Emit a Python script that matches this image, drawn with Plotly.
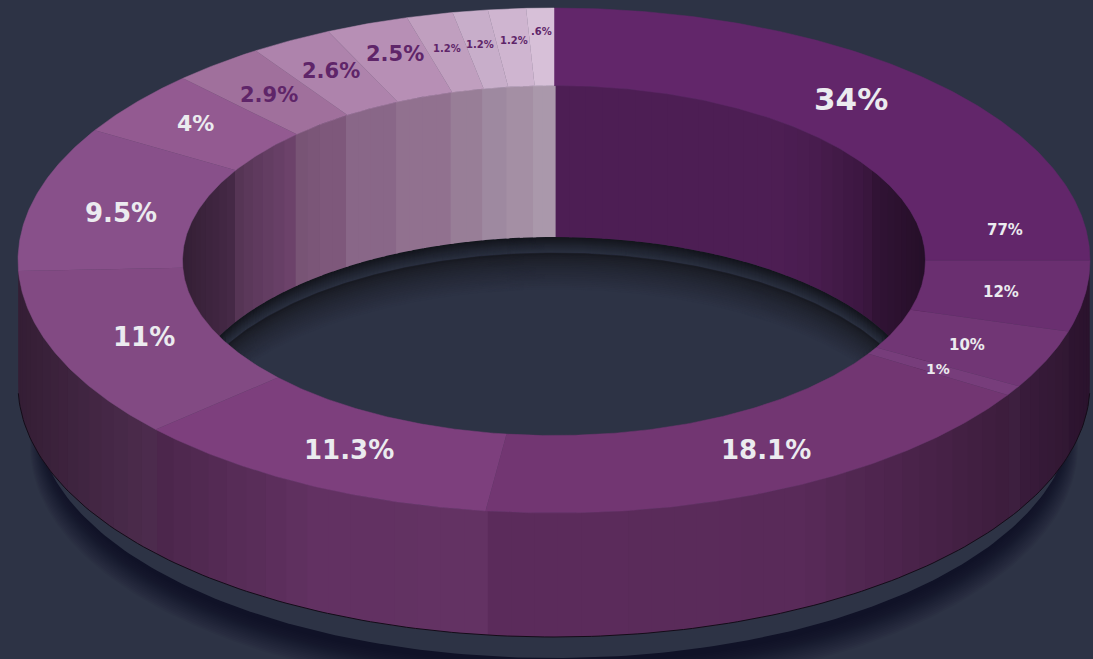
import numpy as np
import plotly.graph_objects as go

# ---- data ----
slice_names = ["a1", "a2", "a3", "a4", "b", "c", "d", "e", "f", "g", "h", "i", "j", "k", "l", "m"]
slice_shares = [25.0, 4.55, 3.75, 0.65, 18.1, 11.3, 11.0, 9.3, 4.2, 2.78, 2.47, 2.5, 1.39, 1.06, 1.14, 0.83]
slice_colors = ["#62266a", "#6a2f70", "#713675", "#773d7b", "#723672", "#7d3f7d", "#824a83", "#88508a",
                "#935a91", "#a0709c", "#ae83ac", "#b78fb5", "#c09fbf", "#c8aeca", "#cfb5d0", "#d7c0d8"]
label_texts = ["34%", "77%", "12%", "10%", "1%", "18.1%", "11.3%", "11%", "9.5%", "4%", "2.9%", "2.6%",
               "2.5%", "1.2%", "1.2%", "1.2%", ".6%"]
label_angles = [41.0, 81.9, 98.4, 113.6, 121, 152.2, 207, 248.4, 283, 309, 321, 331, 340, 346.6, 350.8, 355.1, 358.5]
label_radii = [.845, .85, .843, .84, .835, .847, .844, .823, .83, .86, .844, .858, .87, .863, .866, .874, .908]
label_sizes = [31, 15, 15, 15, 14, 26, 26, 26, 26, 22, 21, 21, 21, 10, 10, 10, 10]
label_colors = ["#ebebef"] * 10 + ["#5f2569"] * 7

# ---- style ----
BG = "#2d3345"
CX, CY = 554.0, 260.5
RX_O, RY_O = 536.0, 252.5
RX_I, RY_I = 371.5, 175.0
OUT_DEPTH = 124.0
IN_DEPTH = 151.5
outer_sin = [0, .45, .7, .85, .95, 1]
outer_val = [.80, .78, .63, .52, .44, .40]
inner_sin = [0, .6, .7, .84, .87, 1]
inner_val = [.79, .79, .74, .60, .50, .38]


def rgb(h):
    return np.array([int(h[i:i + 2], 16) for i in (1, 3, 5)], float)


def hexs(c):
    return "#%02x%02x%02x" % tuple(int(round(max(0, min(255, v)))) for v in c)


def ell(theta_deg, rx, ry, cy=CY):
    t = np.radians(theta_deg)
    return CX + rx * np.sin(t), cy - ry * np.cos(t)


fig = go.Figure()


def poly(x, y, fill, width=0.0):
    fig.add_trace(go.Scatter(x=list(x), y=list(y), mode="lines", fill="toself", fillcolor=fill,
                             line=dict(color=fill if width else "rgba(0,0,0,0)", width=width),
                             hoverinfo="skip", showlegend=False))


total = sum(slice_shares)
edges = np.concatenate([[0], np.cumsum(slice_shares)]) / total * 360.0

# outer drop shadow
full = np.linspace(0, 360, 361)
for k in range(18):
    f = k / 17
    a = 524 - 14 * f
    x, y = ell(full, a, a * RY_O / RX_O, 446 - 22 * f)
    poly(x, y, "rgba(11,11,16,0.045)")

# slate base below the ring
x, y = ell(full, 518, 244, 414)
poly(x, y, BG)

# hole: two stepped gradients clipped to the lower edge of the opening
hx = np.linspace(-RX_I, RX_I, 241)
root = np.sqrt(np.clip(1 - (hx / RX_I) ** 2, 0, 1))
low = CY + RY_I * root
d1, l1, d2, l2 = rgb("#14161d"), rgb("#2b3142"), rgb("#181a22"), rgb(BG)
layers = [(412 + i, d1 + (l1 - d1) * i / 16) for i in range(17)]
layers += [(428 + i * 1.8, d2 + (l2 - d2) * (i / 20) ** .7) for i in range(21)]
for cy_s, col in layers:
    top = cy_s - RY_I * root
    bottom = np.minimum(cy_s + RY_I * root, low)
    keep = top < bottom
    poly(np.r_[CX + hx[keep], (CX + hx[keep])[::-1]], np.r_[top[keep], bottom[keep][::-1]], hexs(col), 0.5)

# walls, cut into narrow bands per slice


def wall(th0, th1, outer, col):
    n = max(1, int(np.ceil(abs(th1 - th0) / 2.6)))
    steps = np.linspace(th0, th1, n + 1)
    for s0, s1 in zip(steps[:-1], steps[1:]):
        mid = (s0 + s1) / 2
        s = abs(np.sin(np.radians(mid)))
        sh = np.interp(s, outer_sin, outer_val) if outer else np.interp(s, inner_sin, inner_val)
        c = hexs(rgb(col) * sh)
        # a small overlap closes the hairline between neighbouring bands
        arc = np.linspace(s0 - 0.25, s1 + 0.25, 6)
        if outer:
            tx, ty = ell(arc, RX_O, RY_O)
            bx, by = ell(arc, RX_O, RY_O, CY + OUT_DEPTH)
        else:
            tx, ty = ell(arc, RX_I, RY_I)
            bx, by = ell(arc, RX_I, RY_I, CY + IN_DEPTH)
        poly(np.r_[tx, bx[::-1]], np.r_[ty, by[::-1]], c)


for c, a0, a1 in zip(slice_colors, edges[:-1], edges[1:]):
    # inner wall: far half of the ring
    for lo, hi in ((0, 90), (270, 360)):
        s0, s1 = max(a0, lo), min(a1, hi)
        if s1 > s0:
            wall(s0, s1, False, c)
    # outer wall: near half of the ring
    s0, s1 = max(a0, 90), min(a1, 270)
    if s1 > s0:
        wall(s0, s1, True, c)

# dark line along the foot of the outer wall
arc = np.linspace(92, 268, 177)
x, y = ell(arc, RX_O, RY_O, CY + OUT_DEPTH)
fig.add_trace(go.Scatter(x=x, y=y, mode="lines", line=dict(color="#140c18", width=1), hoverinfo="skip", showlegend=False))

# top face
for c, a0, a1 in zip(slice_colors, edges[:-1], edges[1:]):
    arc = np.linspace(a0, a1, max(3, int((a1 - a0) * 2)))
    ox, oy = ell(arc, RX_O, RY_O)
    ix, iy = ell(arc[::-1], RX_I, RY_I)
    poly(np.r_[ox, ix], np.r_[oy, iy], c, 0.5)

# labels
for t, ang, r, s, c in zip(label_texts, label_angles, label_radii, label_sizes, label_colors):
    lx, ly = ell(ang, RX_O * r, RY_O * r)
    fig.add_annotation(x=lx, y=ly, text=t, showarrow=False, xanchor="center", yanchor="middle",
                       font=dict(family="DejaVu Sans", size=s, color=c, weight="bold"))

fig.update_layout(width=1093, height=659, margin=dict(l=0, r=0, t=0, b=0), paper_bgcolor=BG, plot_bgcolor=BG,
                  showlegend=False,
                  xaxis=dict(range=[0, 1093], visible=False, fixedrange=True),
                  yaxis=dict(range=[659, 0], visible=False, fixedrange=True))
fig.write_html("out.html", config={"displayModeBar": False},
               post_script="document.body.style.margin='0';document.body.style.overflow='hidden';document.body.style.background='%s';" % BG)
